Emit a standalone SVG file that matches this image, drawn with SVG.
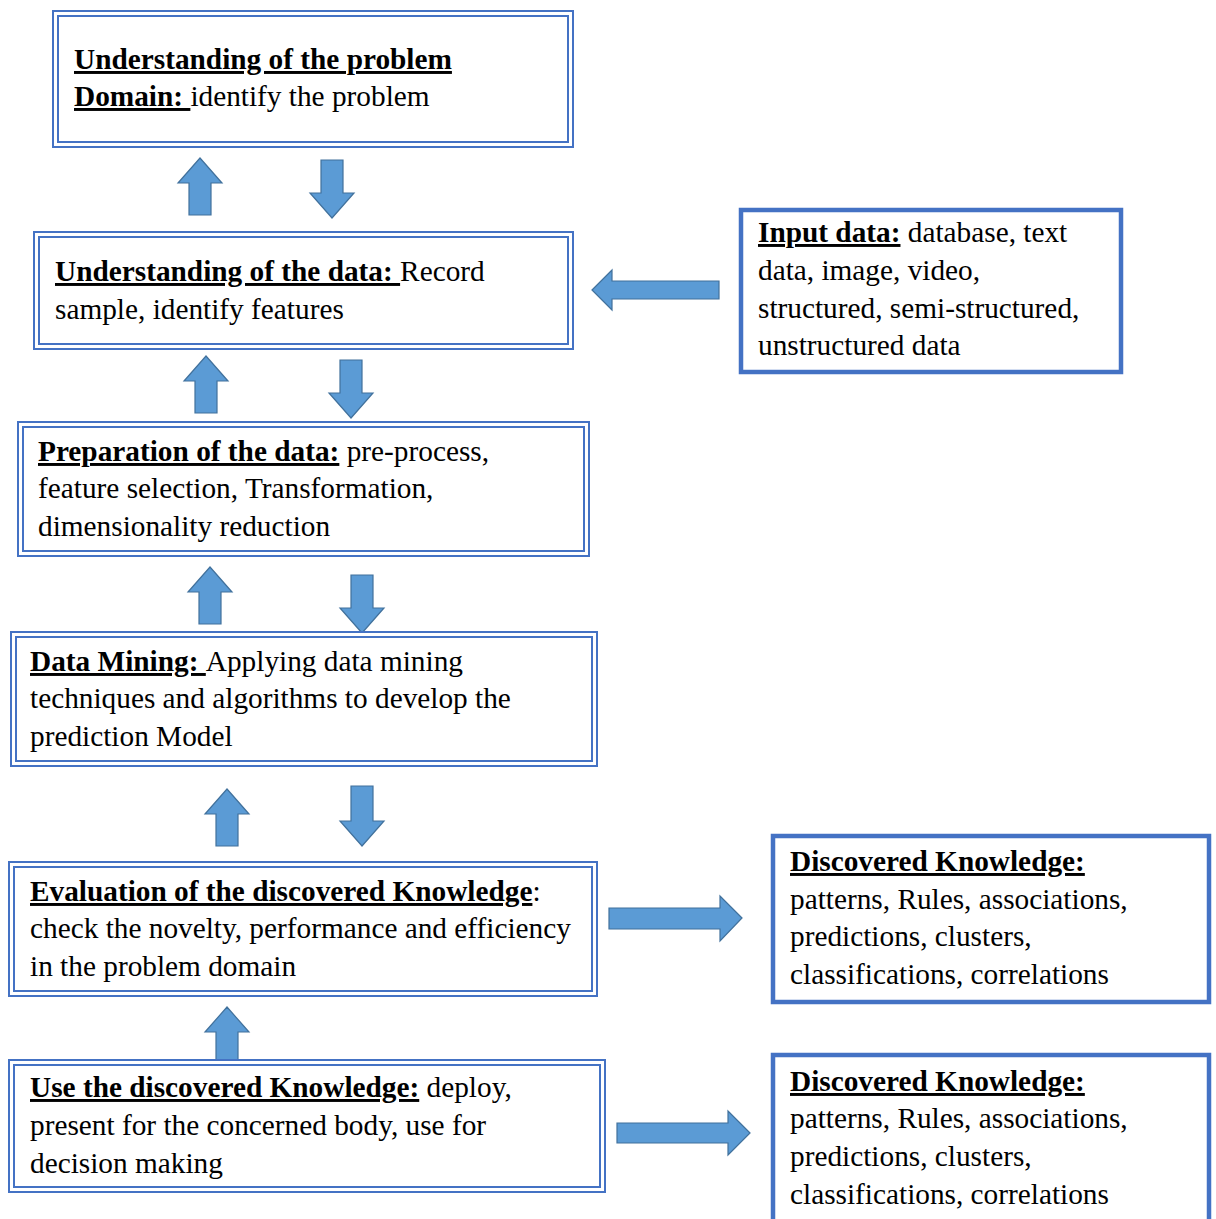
<svg xmlns="http://www.w3.org/2000/svg" width="1216" height="1219" viewBox="0 0 1216 1219">
  <style>
    .dbl { fill: none; stroke: #4472c4; stroke-width: 2; }
    .bg { fill: #ffffff; }
    .thick { fill: #ffffff; stroke: #4472c4; stroke-width: 4.5; }
    .arrow { fill: #5b9bd5; stroke: #41719c; stroke-width: 1.2; }
    text { font-family: "Liberation Serif", "Times New Roman", serif; font-size: 29.3px; fill: #000000; }
    .h { font-weight: bold; text-decoration: underline; }
  </style>

  <rect width="1216" height="1219" fill="#ffffff"/>

  <!-- connectors -->
  <g id="connectors">
    <!-- problem domain <-> data understanding -->
    <path class="arrow" d="M200,158 L222,183 L211,183 L211,215 L189,215 L189,183 L178,183 Z"/>
    <path class="arrow" d="M332,218 L354,193 L343,193 L343,160 L321,160 L321,193 L310,193 Z"/>
    <!-- data understanding <-> preparation -->
    <path class="arrow" d="M206,356 L228,381 L217,381 L217,413 L195,413 L195,381 L184,381 Z"/>
    <path class="arrow" d="M351,418 L373,393 L362,393 L362,360 L340,360 L340,393 L329,393 Z"/>
    <!-- preparation <-> data mining -->
    <path class="arrow" d="M210,567 L232,592 L221,592 L221,624 L199,624 L199,592 L188,592 Z"/>
    <path class="arrow" d="M362,633 L384,608 L373,608 L373,575 L351,575 L351,608 L340,608 Z"/>
    <!-- data mining <-> evaluation -->
    <path class="arrow" d="M227,789 L249,814 L238,814 L238,846 L216,846 L216,814 L205,814 Z"/>
    <path class="arrow" d="M362,846 L384,821 L373,821 L373,786 L351,786 L351,821 L340,821 Z"/>
    <!-- use -> evaluation -->
    <path class="arrow" d="M227,1007 L249,1032 L238,1032 L238,1061 L216,1061 L216,1032 L205,1032 Z"/>
    <!-- input data -> data understanding -->
    <path class="arrow" d="M592,290 L612,270 L612,281 L719,281 L719,299 L612,299 L612,310 Z"/>
    <!-- evaluation -> discovered knowledge -->
    <path class="arrow" d="M742,918 L720,896 L720,908 L609,908 L609,929 L720,929 L720,941 Z"/>
    <!-- use -> discovered knowledge -->
    <path class="arrow" d="M750,1133 L728,1111 L728,1123 L617,1123 L617,1143 L728,1143 L728,1155 Z"/>
  </g>

  <!-- process steps -->
  <g id="step-problem-domain">
    <rect class="bg" x="52" y="10" width="522" height="138"/>
    <rect class="dbl" x="53" y="11" width="520" height="136"/>
    <rect class="dbl" x="58" y="16" width="510" height="126"/>
    <text x="74" y="69" xml:space="preserve"><tspan class="h">Understanding of the problem</tspan></text>
    <text x="74" y="106" xml:space="preserve"><tspan class="h">Domain: </tspan>identify the problem</text>
  </g>

  <g id="step-data-understanding">
    <rect class="bg" x="33" y="231" width="541" height="119"/>
    <rect class="dbl" x="34" y="232" width="539" height="117"/>
    <rect class="dbl" x="39" y="237" width="529" height="107"/>
    <text x="55" y="281" xml:space="preserve"><tspan class="h">Understanding of the data: </tspan>Record</text>
    <text x="55" y="319">sample, identify features</text>
  </g>

  <g id="step-data-preparation">
    <rect class="bg" x="17" y="421" width="573" height="136"/>
    <rect class="dbl" x="18" y="422" width="571" height="134"/>
    <rect class="dbl" x="23" y="427" width="561" height="124"/>
    <text x="38" y="461" xml:space="preserve"><tspan class="h">Preparation of the data:</tspan> pre-process,</text>
    <text x="38" y="498">feature selection, Transformation,</text>
    <text x="38" y="536">dimensionality reduction</text>
  </g>

  <g id="step-data-mining">
    <rect class="bg" x="10" y="631" width="588" height="136"/>
    <rect class="dbl" x="11" y="632" width="586" height="134"/>
    <rect class="dbl" x="16" y="637" width="576" height="124"/>
    <text x="30" y="671" xml:space="preserve"><tspan class="h">Data Mining: </tspan>Applying data mining</text>
    <text x="30" y="708">techniques and algorithms to develop the</text>
    <text x="30" y="746">prediction Model</text>
  </g>

  <g id="step-evaluation">
    <rect class="bg" x="8" y="861" width="590" height="136"/>
    <rect class="dbl" x="9" y="862" width="588" height="134"/>
    <rect class="dbl" x="14" y="867" width="578" height="124"/>
    <text x="30" y="901" xml:space="preserve"><tspan class="h">Evaluation of the discovered Knowledge</tspan>:</text>
    <text x="30" y="938">check the novelty, performance and efficiency</text>
    <text x="30" y="976">in the problem domain</text>
  </g>

  <g id="step-use-knowledge">
    <rect class="bg" x="8" y="1059" width="598" height="134"/>
    <rect class="dbl" x="9" y="1060" width="596" height="132"/>
    <rect class="dbl" x="14" y="1065" width="586" height="122"/>
    <text x="30" y="1097" xml:space="preserve"><tspan class="h">Use the discovered Knowledge:</tspan> deploy,</text>
    <text x="30" y="1135">present for the concerned body, use for</text>
    <text x="30" y="1173">decision making</text>
  </g>

  <!-- side boxes -->
  <g id="input-data">
    <rect class="thick" x="741" y="210" width="380" height="162"/>
    <text x="758" y="242" xml:space="preserve"><tspan class="h">Input data:</tspan> database, text</text>
    <text x="758" y="280">data, image, video,</text>
    <text x="758" y="318">structured, semi-structured,</text>
    <text x="758" y="355">unstructured data</text>
  </g>

  <g id="discovered-knowledge-1">
    <rect class="thick" x="773" y="836" width="436" height="166"/>
    <text x="790" y="871"><tspan class="h">Discovered Knowledge:</tspan></text>
    <text x="790" y="909">patterns, Rules, associations,</text>
    <text x="790" y="946">predictions, clusters,</text>
    <text x="790" y="984">classifications, correlations</text>
  </g>

  <g id="discovered-knowledge-2">
    <rect class="thick" x="773" y="1055" width="436" height="175"/>
    <text x="790" y="1091"><tspan class="h">Discovered Knowledge:</tspan></text>
    <text x="790" y="1128">patterns, Rules, associations,</text>
    <text x="790" y="1166">predictions, clusters,</text>
    <text x="790" y="1204">classifications, correlations</text>
  </g>
</svg>
